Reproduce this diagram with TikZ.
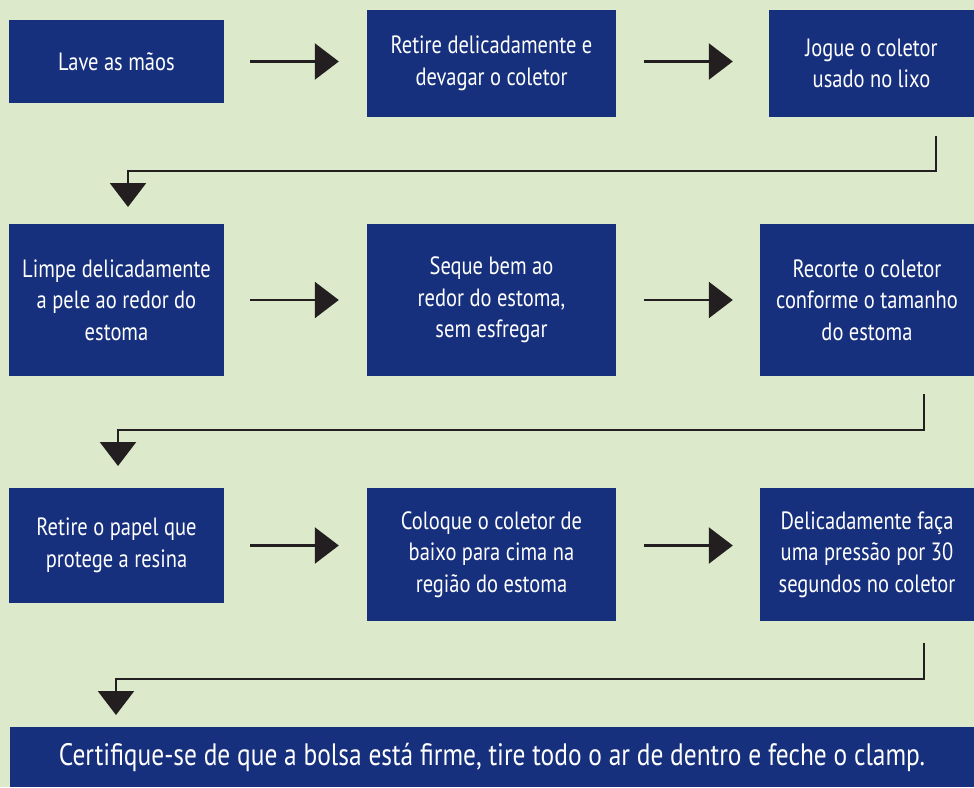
\documentclass[tikz,border=0pt]{standalone}
\usepackage{fontspec}
\setmainfont{PT Sans}[FakeStretch=0.82]
\usetikzlibrary{arrows.meta, calc}
\definecolor{fundo}{HTML}{DCE9CB}
\definecolor{azul}{HTML}{17307D}
\definecolor{preto}{HTML}{231F20}
\tikzset{x=1pt, y=-1pt,
caixa/.style={fill=azul, text=white, align=center, inner sep=0pt,
  font=\fontsize{25}{31.5}\selectfont},
seta/.style={draw=preto, line width=2.5pt, -{Triangle[length=24pt,width=36pt]}},
}

\begin{document}
\begin{tikzpicture}
    \fill[fundo] (0,0) rectangle (974,787);
    \useasboundingbox (0,0) rectangle (974,787);

    \node[caixa, minimum width=215, minimum height=83] (s1) at (116.5,61.5) {Lave as mãos};
    \node[caixa, minimum width=249, minimum height=107] (s2) at (491.5,63.5) {Retire delicadamente e\\devagar o coletor};
    \node[caixa, minimum width=205, minimum height=107] (s3) at (871.5,63.5) {Jogue o coletor\\usado no lixo};

    \node[caixa, minimum width=215, minimum height=152] (s4) at (116.5,300) {Limpe delicadamente\\a pele ao redor do\\estoma};
    \node[caixa, minimum width=249, minimum height=152] (s5) at (491.5,300) {Seque bem ao\\redor do estoma,\\sem esfregar};
    \node[caixa, minimum width=214, minimum height=152] (s6) at (867,300) {Recorte o coletor\\conforme o tamanho\\do estoma};

    \node[caixa, minimum width=215, minimum height=115] (s7) at (116.5,545.5) {Retire o papel que\\protege a resina};
    \node[caixa, minimum width=249, minimum height=133] (s8) at (491.5,554.5) {Coloque o coletor de\\baixo para cima na\\região do estoma};
    \node[caixa, minimum width=214, minimum height=133] (s9) at (867,554.5) {Delicadamente faça\\uma pressão por 30\\segundos no coletor};

    \node[caixa, minimum width=964, minimum height=60, font=\fontsize{31}{36}\selectfont] (fim) at (492,757) {Certifique-se de que a bolsa está firme, tire todo o ar de dentro e feche o clamp.};

    % pontas das ligacoes entre linhas
    \coordinate (a1) at (936,136);
    \coordinate (b1) at (128,207);
    \coordinate (a2) at (924,394);
    \coordinate (b2) at (118,466);
    \coordinate (a3) at (924,643);
    \coordinate (b3) at (116,715);

    \draw[seta] ([xshift=26]s1.east) -- ([xshift=-28]s1.east -| s2.west);
    \draw[seta] ([xshift=28]s2.east |- s1.east) -- ([xshift=-36]s3.west |- s1.east);
    \draw[seta] ([xshift=26]s4.east) -- ([xshift=-28]s5.west);
    \draw[seta] ([xshift=28]s5.east) -- ([xshift=-27]s6.west);
    \draw[seta] ([xshift=26]s7.east) -- ([xshift=-28]s7.east -| s8.west);
    \draw[seta] ([xshift=28]s8.east |- s7.east) -- ([xshift=-27]s9.west |- s7.east);

    \draw[seta] (a1) -- ++(0,35) -| (b1);
    \draw[seta] (a2) -- ++(0,36) -| (b2);
    \draw[seta] (a3) -- ++(0,36) -| (b3);
\end{tikzpicture}
\end{document}
